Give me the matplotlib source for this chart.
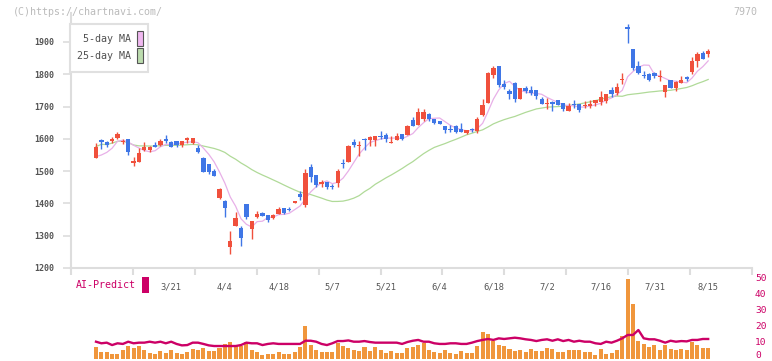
import matplotlib
matplotlib.use("Agg")
import matplotlib.pyplot as plt
import numpy as np
import pandas as pd
from matplotlib.patches import Rectangle

# ---------------- data ----------------
opens = [1542, 1597, 1590, 1594, 1604, 1591, 1599, 1524, 1529, 1567,
         1566, 1582, 1581, 1600, 1590, 1593, 1582, 1597, 1587, 1573,
         1542, 1522, 1501, 1416, 1409, 1266, 1331, 1323, 1398, 1320,
         1359, 1370, 1364, 1354, 1368, 1385, 1383, 1400, 1429, 1394,
         1514, 1488, 1459, 1467, 1455, 1462, 1526, 1529, 1591, 1578,
         1601, 1597, 1597, 1610, 1612, 1588, 1597, 1614, 1612, 1658,
         1643, 1662, 1677, 1661, 1656, 1640, 1631, 1640, 1630, 1619,
         1630, 1625, 1673, 1712, 1798, 1826, 1770, 1749, 1774, 1723,
         1759, 1751, 1751, 1724, 1707, 1715, 1720, 1712, 1687, 1708,
         1708, 1703, 1703, 1712, 1715, 1718, 1751, 1741, 1782, 1947,
         1877, 1826, 1798, 1801, 1803, 1791, 1746, 1782, 1758, 1774,
         1791, 1806, 1842, 1865, 1863]
highs = [1588, 1600, 1593, 1607, 1621, 1600, 1600, 1545, 1571, 1590,
         1579, 1589, 1600, 1612, 1593, 1593, 1593, 1607, 1603, 1581,
         1545, 1522, 1507, 1448, 1412, 1316, 1374, 1330, 1398, 1345,
         1377, 1374, 1364, 1366, 1388, 1387, 1388, 1409, 1438, 1506,
         1522, 1488, 1473, 1467, 1459, 1507, 1538, 1581, 1599, 1593,
         1603, 1609, 1610, 1624, 1618, 1610, 1618, 1615, 1643, 1669,
         1697, 1692, 1681, 1661, 1656, 1641, 1643, 1643, 1648, 1628,
         1634, 1667, 1722, 1808, 1826, 1826, 1782, 1753, 1777, 1758,
         1764, 1764, 1751, 1731, 1728, 1717, 1720, 1712, 1710, 1720,
         1708, 1718, 1720, 1720, 1749, 1739, 1760, 1774, 1805, 1956,
         1877, 1841, 1811, 1804, 1808, 1813, 1767, 1782, 1780, 1795,
         1795, 1855, 1868, 1873, 1878]
lows = [1541, 1569, 1576, 1586, 1600, 1583, 1551, 1517, 1529, 1563,
        1560, 1576, 1578, 1588, 1576, 1576, 1576, 1586, 1583, 1556,
        1496, 1491, 1486, 1414, 1359, 1244, 1331, 1268, 1351, 1289,
        1354, 1362, 1342, 1351, 1366, 1368, 1375, 1400, 1412, 1390,
        1467, 1450, 1450, 1444, 1444, 1452, 1509, 1529, 1574, 1548,
        1566, 1579, 1579, 1600, 1591, 1588, 1595, 1598, 1612, 1641,
        1643, 1655, 1655, 1646, 1645, 1619, 1622, 1617, 1622, 1615,
        1622, 1617, 1672, 1712, 1788, 1760, 1755, 1723, 1715, 1723,
        1743, 1736, 1724, 1707, 1692, 1687, 1704, 1686, 1687, 1695,
        1684, 1696, 1696, 1702, 1705, 1712, 1731, 1736, 1770, 1896,
        1813, 1801, 1788, 1780, 1788, 1780, 1731, 1758, 1749, 1774,
        1780, 1801, 1824, 1847, 1855]
closes = [1576, 1590, 1581, 1600, 1615, 1594, 1560, 1532, 1557, 1576,
          1575, 1576, 1594, 1593, 1576, 1582, 1593, 1603, 1602, 1560,
          1498, 1498, 1486, 1445, 1387, 1284, 1355, 1292, 1359, 1345,
          1367, 1362, 1350, 1364, 1384, 1371, 1379, 1406, 1420, 1494,
          1481, 1457, 1467, 1450, 1451, 1501, 1522, 1579, 1581, 1582,
          1595, 1605, 1610, 1605, 1599, 1591, 1609, 1600, 1641, 1641,
          1684, 1684, 1662, 1648, 1645, 1627, 1627, 1622, 1622, 1628,
          1626, 1661, 1704, 1803, 1821, 1768, 1760, 1739, 1723, 1758,
          1748, 1741, 1734, 1709, 1710, 1708, 1705, 1692, 1702, 1704,
          1689, 1706, 1707, 1720, 1729, 1739, 1739, 1760, 1785, 1939,
          1819, 1805, 1795, 1782, 1796, 1795, 1767, 1758, 1777, 1782,
          1785, 1841, 1863, 1847, 1872]
# first values of the 5-day MA (prior days not shown)
ma5_head = [1545, 1550, 1558, 1571]

volume = [7.4, 4.3, 4.3, 2.8, 2.8, 5.3, 7.8, 6.8, 7.8, 5.3,
          3.6, 2.8, 4.9, 3.6, 5.3, 3.6, 2.8, 4.3, 5.9, 5.3,
          6.8, 4.9, 4.9, 6.8, 9.1, 10.5, 7.8, 7.8, 10.5, 5.6,
          4.3, 2.2, 2.8, 2.8, 4.3, 2.8, 2.8, 4.3, 7.4, 20.3,
          8.4, 5.3, 4.3, 4.3, 4.3, 9.9, 7.8, 6.8, 5.3, 4.6,
          7.0, 4.6, 7.0, 5.6, 3.6, 4.6, 3.6, 3.6, 6.8, 7.4,
          8.4, 9.9, 5.3, 4.3, 3.6, 5.3, 3.6, 2.8, 4.9, 3.6,
          3.6, 7.8, 16.8, 15.3, 11.1, 8.4, 7.8, 5.9, 4.9, 5.3,
          4.3, 5.9, 4.6, 4.6, 6.4, 5.9, 4.3, 4.3, 5.3, 5.3,
          5.3, 3.8, 3.8, 2.2, 5.9, 3.1, 3.6, 5.3, 14.1, 49.7,
          33.9, 11.1, 9.1, 7.0, 8.4, 5.3, 8.4, 5.9, 5.3, 5.9,
          5.3, 10.5, 8.4, 6.8, 6.8]
ai_predict = [10.5, 9.5, 9.9, 8.4, 9.5, 9.1, 10.5, 9.5, 9.9, 9.9,
              10.5, 9.9, 10.5, 9.5, 10.5, 9.1, 8.2, 8.4, 9.9, 9.9,
              9.1, 8.2, 7.8, 7.8, 7.8, 7.8, 7.8, 8.4, 9.9, 9.5,
              9.5, 8.4, 9.1, 9.5, 9.1, 9.1, 9.1, 9.1, 9.1, 11.1,
              11.1, 10.5, 9.1, 8.4, 9.5, 10.9, 10.9, 11.3, 10.5, 10.5,
              10.9, 10.3, 9.9, 9.9, 9.9, 9.9, 9.9, 9.1, 10.3, 11.1,
              11.6, 10.5, 10.5, 9.5, 9.1, 9.1, 9.5, 9.5, 9.1, 9.1,
              9.9, 10.9, 11.6, 12.2, 11.6, 12.6, 12.2, 12.6, 13.0, 12.6,
              12.0, 11.6, 10.9, 11.6, 12.0, 11.1, 12.0, 10.9, 11.6, 10.5,
              11.1, 10.5, 10.5, 9.5, 9.1, 10.5, 9.9, 11.1, 12.6, 14.7,
              14.7, 17.8, 12.6, 12.0, 12.0, 11.1, 9.9, 11.1, 10.5, 10.9,
              10.7, 11.6, 11.6, 12.2, 12.2]

tick_labels = ["3/21", "4/4", "4/18", "5/7", "5/21", "6/4", "6/18",
               "7/2", "7/16", "7/31", "8/15"]
tick_index = [14, 24, 34, 44, 54, 64, 74, 84, 94, 104, 114]
price_ticks = [1200, 1300, 1400, 1500, 1600, 1700, 1800, 1900]
vol_ticks = [0, 10, 20, 30, 40, 50]

# ---------------- layout ----------------
W, H = 772, 361
fig = plt.figure(figsize=(W / 100, H / 100), dpi=100)
fig.patch.set_facecolor("white")

def fx(px):
    return px / W

def fy(py):
    return 1 - py / H

AX_L, AX_R, AX_T, AX_B = 71, 752, 13, 268
X0_PX, STEP_PX = 96, 5.37
xlim = ((AX_L - X0_PX) / STEP_PX, (AX_R - X0_PX) / STEP_PX)

RED = "#f0503c"
BLUE = "#3f76e6"
GRID = "#dddddd"
TXT = "#555555"
MAG = "#cc0066"
MONO = "DejaVu Sans Mono"

n = len(closes)
idx = np.arange(n)
o = np.array(opens, float)
c = np.array(closes, float)
hi = np.array(highs, float)
lo = np.array(lows, float)

s = pd.Series(c)
ma5 = s.rolling(5, min_periods=1).mean().to_numpy()
ma5[:len(ma5_head)] = ma5_head
ma25 = s.rolling(25, min_periods=1).mean().to_numpy()

# ---------------- volume panel (behind) ----------------
VB = 361
vax = fig.add_axes([fx(AX_L), fy(VB), fx(AX_R) - fx(AX_L), fy(AX_B) - fy(VB)])
vax.set_facecolor("none")
zero_px, fifty_px = 358.5, 278.5
ppu = (zero_px - fifty_px) / 50.0
vax.set_ylim(-(VB - zero_px) / ppu, 50 + (fifty_px - AX_B) / ppu)
vax.set_xlim(*xlim)
vax.bar(idx, volume, width=0.75, color="#f0963c", zorder=2)
vax.plot(idx, ai_predict, color=MAG, lw=1.7, zorder=3, solid_joinstyle="round")
for sp in vax.spines.values():
    sp.set_visible(False)
vax.set_xticks([])
vax.set_yticks([])
# right-hand volume scale labels
for v in vol_ticks:
    ypx = zero_px - v * ppu
    ypx = min(ypx, 356.0)  # keep the bottom label inside the canvas
    fig.text(fx(755), fy(ypx), str(v), ha="left", va="center", fontsize=6.8,
             family=MONO, color=MAG)

# ---------------- main price panel ----------------
ax = fig.add_axes([fx(AX_L), fy(AX_B), fx(AX_R) - fx(AX_L), fy(AX_T) - fy(AX_B)])
ax.set_facecolor("none")
ppx = (268 - 42) / 700.0
ax.set_ylim(1200, 1900 + (42 - AX_T) / ppx)
ax.set_xlim(*xlim)

up = c >= o
colors = np.where(up, RED, BLUE)
ax.vlines(idx, lo, hi, colors=colors, lw=1.0, zorder=3)
body_bottom = np.minimum(o, c)
body_h = np.maximum(np.abs(c - o), 3.0)
ax.bar(idx, body_h, bottom=body_bottom, width=0.8, color=colors, zorder=4, linewidth=0)

ax.plot(idx, ma25, color="#b0da98", lw=0.9, zorder=2)
ax.plot(idx, ma5, color="#e8b0e8", lw=0.9, zorder=2)

for side in ("top", "right"):
    ax.spines[side].set_visible(False)
for side in ("left", "bottom"):
    ax.spines[side].set_color(GRID)
    ax.spines[side].set_linewidth(1.5)

ax.set_yticks(price_ticks)
ax.set_yticklabels([str(v) for v in price_ticks], fontsize=6, family=MONO,
                   color=TXT, fontweight="bold")
ax.tick_params(axis="y", length=6, width=1.2, color=GRID, pad=6)

ax.set_xticks(tick_index)
ax.set_xticklabels(tick_labels, fontsize=6.3, family=MONO, color=TXT)
ax.tick_params(axis="x", which="major", length=0, pad=10.5)
minor = np.linspace(xlim[0], xlim[1], 12)
ax.set_xticks(minor, minor=True)
ax.tick_params(axis="x", which="minor", length=5, width=1.5, color=GRID)

# ---------------- legend ----------------
fig.patches.append(Rectangle((fx(70), fy(72)), fx(148) - fx(70), fy(24) - fy(72),
                             transform=fig.transFigure, facecolor="white",
                             edgecolor="#e0e0e0", lw=1.5, zorder=5))
for label, col, ytxt, ytop in [("5-day MA", "#f0b8f0", 39, 31.5),
                                ("25-day MA", "#bcdcae", 56, 48.5)]:
    fig.text(fx(131), fy(ytxt), label, ha="right", va="center", fontsize=7.2,
             family=MONO, color="#505050", zorder=6)
    fig.patches.append(Rectangle((fx(137), fy(ytop + 14.5)), fx(142.5) - fx(137),
                                 fy(ytop) - fy(ytop + 14.5), transform=fig.transFigure,
                                 facecolor=col, edgecolor="#555555", lw=0.8, zorder=6))

# ---------------- header texts ----------------
fig.text(fx(13), fy(12), "(C)https://chartnavi.com/", ha="left", va="center",
         fontsize=7.2, family=MONO, color="#bbbbbb")
fig.text(fx(757), fy(12), "7970", ha="right", va="center", fontsize=7.2,
         family=MONO, color="#bbbbbb")

# AI-Predict label
fig.text(fx(76), fy(285), "AI-Predict", ha="left", va="center", fontsize=7.2,
         family=MONO, color=MAG)
fig.patches.append(Rectangle((fx(142), fy(293)), fx(149) - fx(142), fy(277) - fy(293),
                             transform=fig.transFigure, facecolor=MAG, lw=0))

fig.savefig("out.png", dpi=100, facecolor="white")
